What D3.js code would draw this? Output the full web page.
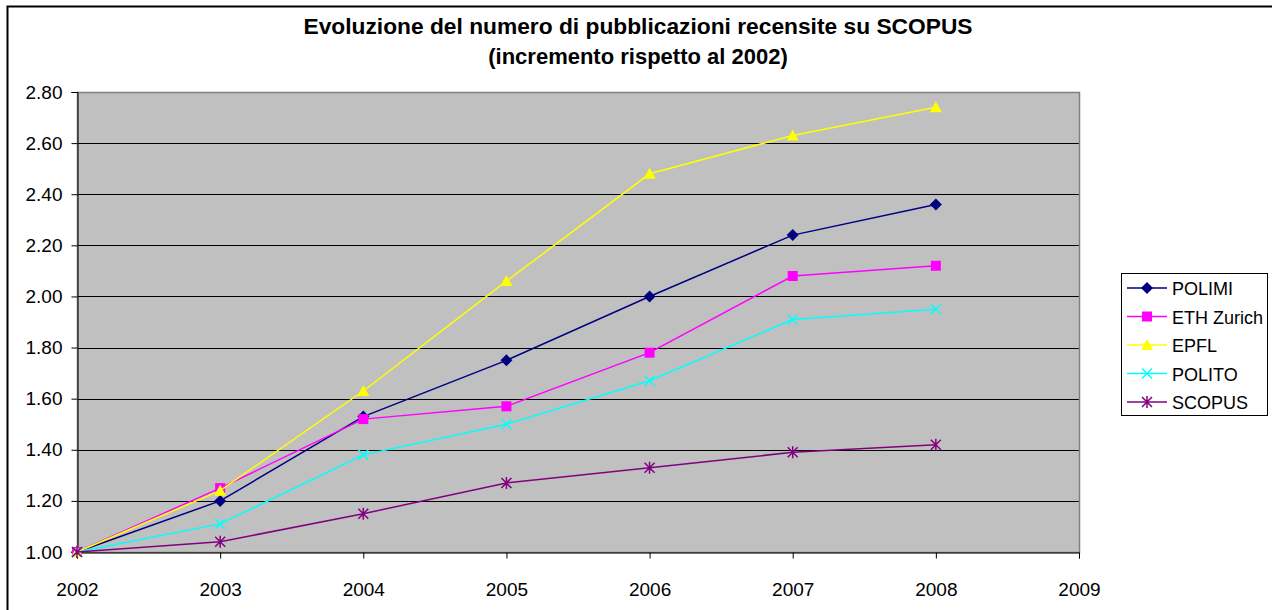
<!DOCTYPE html>
<html>
<head>
<meta charset="utf-8">
<script src="https://cdn.jsdelivr.net/npm/d3@7"></script>
<style>
body { margin: 0; background: #fff; }
svg { font-family: Arial, "Liberation Sans", sans-serif; }
</style>
</head>
<body>
<svg width="1272" height="610"></svg>
<script>
const years = [2002, 2003, 2004, 2005, 2006, 2007, 2008]
const yTicks = [1.0, 1.2, 1.4, 1.6, 1.8, 2.0, 2.2, 2.4, 2.6, 2.8]
const xTicks = [2002, 2003, 2004, 2005, 2006, 2007, 2008, 2009]

const polimi = [1.00, 1.20, 1.53, 1.75, 2.00, 2.24, 2.36]
const eth    = [1.00, 1.25, 1.52, 1.57, 1.78, 2.08, 2.12]
const epfl   = [1.00, 1.24, 1.63, 2.06, 2.48, 2.63, 2.74]
const polito = [1.00, 1.11, 1.38, 1.50, 1.67, 1.91, 1.95]
const scopus = [1.00, 1.04, 1.15, 1.27, 1.33, 1.39, 1.42]

var series = [
	{ name: "POLIMI", values: polimi, color: "#000080", marker: "diamond" },
	{ name: "ETH Zurich", values: eth, color: "#ff00ff", marker: "square" },
	{ name: "EPFL", values: epfl, color: "#ffff00", marker: "triangle" },
	{ name: "POLITO", values: polito, color: "#00ffff", marker: "x" },
	{ name: "SCOPUS", values: scopus, color: "#800080", marker: "star" }
]

var svg = d3.select("svg")

// outer chart frame (only top and left edges visible)
svg.append("rect")
   .attr("x", 7.5).attr("y", 6.5)
   .attr("width", 1300).attr("height", 700)
   .attr("fill", "none")
   .attr("stroke", "#000")
   .attr("stroke-width", 2)

var plot = { left: 77, right: 1079, top: 92, bottom: 552 }

var x = d3.scaleLinear().domain([2002, 2009]).range([plot.left, plot.right])
var y = d3.scaleLinear().domain([1.0, 2.8]).range([plot.bottom, plot.top])

// plot background
svg.append("rect")
   .attr("x", plot.left).attr("y", plot.top)
   .attr("width", plot.right - plot.left).attr("height", plot.bottom - plot.top)
   .attr("fill", "#c0c0c0")

// gridlines
svg.append("g")
   .selectAll("line")
   .data(yTicks.slice(1, -1))
   .enter().append("line")
   .attr("x1", plot.left).attr("x2", plot.right)
   .attr("y1", d => Math.round(y(d)) + 0.5)
   .attr("y2", d => Math.round(y(d)) + 0.5)
   .attr("stroke", "#000")
   .attr("stroke-width", 1)

// plot border (gray)
svg.append("rect")
   .attr("x", plot.left + 0.5).attr("y", plot.top + 0.5)
   .attr("width", plot.right - plot.left).attr("height", plot.bottom - plot.top)
   .attr("fill", "none")
   .attr("stroke", "#808080")
   .attr("stroke-width", 1.5)

// y axis
var yAxis = svg.append("g")
   .attr("transform", "translate(" + (plot.left + 0.5) + ",0)")
   .call(d3.axisLeft(y).tickValues(yTicks).tickFormat(d3.format(".2f")).tickSize(6).tickPadding(9))
yAxis.select(".domain").attr("stroke", "#000")
yAxis.selectAll("text").attr("font-size", 19).attr("fill", "#000")

// x axis
var xAxis = svg.append("g")
   .attr("transform", "translate(0," + (plot.bottom + 0.5) + ")")
   .call(d3.axisBottom(x).tickValues(xTicks).tickFormat(d3.format("d")).tickSize(6).tickPadding(24))
xAxis.select(".domain").attr("stroke", "#000")
xAxis.selectAll("text").attr("font-size", 19).attr("fill", "#000")

// markers
function drawMarker(sel, type, color) {
	if (type === "diamond") {
		sel.append("path").attr("d", "M0,-6L6,0L0,6L-6,0Z").attr("fill", color)
	} else if (type === "square") {
		sel.append("rect").attr("x", -5).attr("y", -5).attr("width", 10).attr("height", 10).attr("fill", color)
	} else if (type === "triangle") {
		sel.append("path").attr("d", "M0,-6L6,5L-6,5Z").attr("fill", color)
	} else if (type === "x") {
		sel.append("path").attr("d", "M-5,-5L5,5M-5,5L5,-5").attr("stroke", color).attr("stroke-width", 1.5)
	} else if (type === "star") {
		sel.append("path").attr("d", "M-5,-5L5,5M-5,5L5,-5M0,-6L0,6").attr("stroke", color).attr("stroke-width", 1.5)
	}
}

var line = d3.line()
	.x(function(d, i) { return x(years[i]) })
	.y(function(d) { return y(d) })

series.forEach(function(s) {
	svg.append("path")
	   .datum(s.values)
	   .attr("d", line)
	   .attr("fill", "none")
	   .attr("stroke", s.color)
	   .attr("stroke-width", 1.5)
	s.values.forEach(function(v, i) {
		var m = svg.append("g").attr("transform", "translate(" + x(years[i]) + "," + y(v) + ")")
		drawMarker(m, s.marker, s.color)
	})
})

// title
svg.append("text")
   .attr("x", 638).attr("y", 34)
   .attr("text-anchor", "middle")
   .attr("font-size", 22).attr("font-weight", "bold")
   .attr("textLength", 669).attr("lengthAdjust", "spacingAndGlyphs")
   .text("Evoluzione del numero di pubblicazioni recensite su SCOPUS")
svg.append("text")
   .attr("x", 638).attr("y", 64)
   .attr("text-anchor", "middle")
   .attr("font-size", 22).attr("font-weight", "bold")
   .text("(incremento rispetto al 2002)")

// legend
var legend = svg.append("g").attr("transform", "translate(1121,273)")
legend.append("rect")
   .attr("x", 0.5).attr("y", 0.5)
   .attr("width", 146).attr("height", 142)
   .attr("fill", "#fff")
   .attr("stroke", "#000")
   .attr("stroke-width", 1)
series.forEach(function(s, i) {
	var row = legend.append("g").attr("transform", "translate(0," + (15 + i * 28.5) + ")")
	row.append("line").attr("x1", 6).attr("x2", 46).attr("y1", 0).attr("y2", 0)
	   .attr("stroke", s.color).attr("stroke-width", 1.5)
	drawMarker(row.append("g").attr("transform", "translate(26,0)"), s.marker, s.color)
	row.append("text").attr("x", 51).attr("y", 7)
	   .attr("font-size", 18).text(s.name)
})
</script>
</body>
</html>
